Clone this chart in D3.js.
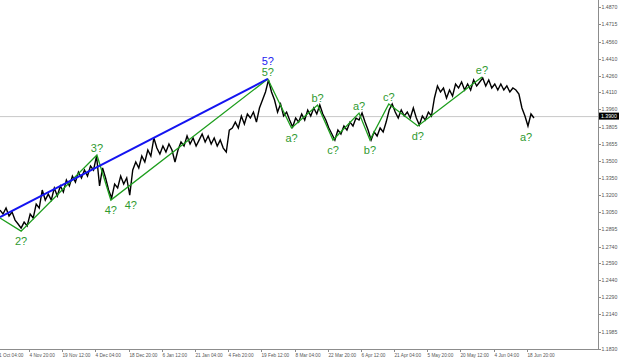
<!DOCTYPE html>
<html><head><meta charset="utf-8">
<script src="https://cdn.jsdelivr.net/npm/d3@7"></script>
<style>html,body{margin:0;padding:0;background:#fff;} svg{display:block;}</style>
</head><body>
<svg id="c" width="620" height="361"></svg>
<script>
// ---- data ----
const closes = [
1.3065,1.3030,1.3083,1.3012,1.3047,1.2976,1.2941,1.2905,1.2958,1.2923,
1.3030,1.2994,1.3118,1.3083,1.3243,1.3154,1.3207,1.3154,1.3261,1.3190,
1.3279,1.3225,1.3332,1.3279,1.3367,1.3314,1.3403,1.3350,1.3421,1.3367,
1.3456,1.3421,1.3545,1.3279,1.3439,1.3350,1.3243,1.3172,1.3296,1.3261,
1.3367,1.3296,1.3350,1.3198,1.3421,1.3492,1.3439,1.3545,1.3492,1.3599,
1.3545,1.3705,1.3616,1.3563,1.3634,1.3581,1.3652,1.3599,1.3492,1.3599,
1.3670,1.3634,1.3723,1.3652,1.3705,1.3634,1.3687,1.3741,1.3670,1.3723,
1.3652,1.3705,1.3634,1.3687,1.3616,1.3581,1.3776,1.3794,1.3847,1.3794,
1.3901,1.3830,1.3919,1.3883,1.3936,1.3847,1.3972,1.4043,1.4114,1.4221,
1.4114,1.4043,1.3936,1.4007,1.3901,1.3936,1.3865,1.3803,1.3883,1.3847,
1.3919,1.3865,1.3954,1.3901,1.3972,1.3919,1.3999,1.3919,1.3865,1.3794,
1.3741,1.3687,1.3776,1.3741,1.3812,1.3776,1.3847,1.3812,1.3883,1.3865,
1.3927,1.3847,1.3776,1.3687,1.3759,1.3723,1.3794,1.3759,1.3847,1.3954,
1.4007,1.3936,1.3883,1.3954,1.3901,1.3936,1.3883,1.3972,1.3883,1.3821,
1.3901,1.3865,1.3936,1.3901,1.4061,1.4168,1.4114,1.4150,1.4061,1.4132,
1.4079,1.4185,1.4150,1.4203,1.4132,1.4185,1.4132,1.4221,1.4168,1.4203,
1.4239,1.4168,1.4221,1.4150,1.4185,1.4132,1.4185,1.4132,1.4168,1.4114,
1.4150,1.4132,1.4096,1.3972,1.3901,1.3812,1.3919,1.3883
];
const BAR_STEP = 8;            // H4 bars between samples
const yTicks = [1.4870,1.4715,1.4560,1.4410,1.4260,1.4110,1.3960,1.3805,1.3655,1.3500,
                1.3350,1.3200,1.3050,1.2895,1.2740,1.2590,1.2440,1.2290,1.2140,1.1985,1.1830];
const currentPrice = 1.3900;
const xTickLabels = ["21 Oct 04:00","4 Nov 20:00","19 Nov 12:00","4 Dec 04:00","18 Dec 20:00",
  "6 Jan 12:00","21 Jan 04:00","4 Feb 20:00","19 Feb 12:00","8 Mar 04:00","22 Mar 20:00",
  "6 Apr 12:00","21 Apr 04:00","5 May 20:00","20 May 12:00","4 Jun 04:00","18 Jun 20:00"];
const xTickFirstBar = -11, xTickEvery = 88;
const blueWave = [[0,1.3003],[710,1.4230]];
const greenWave = [[0,1.2994],[56,1.2878],[257,1.3554],[294,1.3154],[710,1.4230],[773,1.3794],
  [842,1.3999],[883,1.3687],[952,1.3927],[981,1.3687],[1031,1.4007],[1108,1.3812],[1278,1.4247]];
const waveLabels = [
  {t:"2?",bar:56,p:1.2878,side:"below"},
  {t:"3?",bar:257,p:1.3554,side:"above"},
  {t:"4?",bar:294,p:1.3154,side:"below"},
  {t:"4?",bar:347,p:1.3198,side:"below"},
  {t:"5?",bar:710,p:1.4230,side:"top",blue:true},
  {t:"5?",bar:710,p:1.4230,side:"above"},
  {t:"a?",bar:773,p:1.3794,side:"below"},
  {t:"b?",bar:842,p:1.3999,side:"above"},
  {t:"c?",bar:883,p:1.3687,side:"below"},
  {t:"a?",bar:952,p:1.3927,side:"above"},
  {t:"b?",bar:981,p:1.3687,side:"below"},
  {t:"c?",bar:1031,p:1.4007,side:"above"},
  {t:"d?",bar:1108,p:1.3812,side:"below"},
  {t:"e?",bar:1278,p:1.4247,side:"above"},
  {t:"a?",bar:1395,p:1.3803,side:"below"}
];

// ---- layout ----
const plotRight = 598, plotBottom = 349;
const svg = d3.select("#c");
const x = d3.scaleLinear().domain([0,1416]).range([0,534]);
const y = d3.scaleLinear().domain([1.1830,1.4932]).range([plotBottom,0]);

svg.append("defs").append("clipPath").attr("id","clip")
  .append("rect").attr("x",0).attr("y",0).attr("width",plotRight).attr("height",plotBottom);

const plot = svg.append("g").attr("clip-path","url(#clip)");

// current price line
plot.append("line").attr("x1",0).attr("x2",plotRight)
  .attr("y1",y(currentPrice)+0.5).attr("y2",y(currentPrice)+0.5)
  .attr("stroke","#c8c8c8").attr("stroke-width",1);

// price series
plot.append("path").datum(closes)
  .attr("d", d3.line().x((d,i)=>x(i*BAR_STEP)).y(d=>y(d)))
  .attr("fill","none").attr("stroke","#000").attr("stroke-width",1.4).attr("stroke-linejoin","miter");

// wave lines
const wl = d3.line().x(d=>x(d[0])).y(d=>y(d[1]));
plot.append("path").datum(greenWave).attr("d",wl).attr("fill","none")
  .attr("stroke","#1e9e1e").attr("stroke-width",1.3);
plot.append("path").datum(blueWave).attr("d",wl).attr("fill","none")
  .attr("stroke","#1414f0").attr("stroke-width",2);

// wave labels
const off = {below:14, above:-3, top:-14};
svg.append("g").selectAll("text").data(waveLabels).join("text")
  .attr("x",d=>x(d.bar)).attr("y",d=>y(d.p)+off[d.side])
  .attr("text-anchor","middle")
  .attr("font-family","Liberation Sans, Arial, sans-serif").attr("font-size",11)
  .attr("fill",d=>d.blue?"#2424f0":"#2f9a2f").text(d=>d.t);

// axes lines
svg.append("line").attr("x1",plotRight+0.5).attr("x2",plotRight+0.5).attr("y1",0).attr("y2",plotBottom+0.5)
  .attr("stroke","#8c8c8c").attr("stroke-width",1);
svg.append("line").attr("x1",0).attr("x2",plotRight+0.5).attr("y1",plotBottom+0.5).attr("y2",plotBottom+0.5)
  .attr("stroke","#8c8c8c").attr("stroke-width",1);

// y ticks
const yg = svg.append("g");
yTicks.forEach(v=>{
  const yy = Math.round(y(v))+0.5;
  yg.append("line").attr("x1",plotRight).attr("x2",plotRight+3).attr("y1",yy).attr("y2",yy)
    .attr("stroke","#8c8c8c");
  yg.append("text").attr("x",plotRight+3.5).attr("y",yy+1.8)
    .attr("font-family","Liberation Sans, Arial, sans-serif").attr("font-size",5.2)
    .attr("fill","#555").text(v.toFixed(4));
});
// current price box
const cy = y(currentPrice);
svg.append("rect").attr("x",plotRight+1).attr("y",cy-3.5).attr("width",20).attr("height",7).attr("fill","#000");
svg.append("text").attr("x",plotRight+3).attr("y",cy+1.9)
  .attr("font-family","Liberation Sans, Arial, sans-serif").attr("font-size",5.2)
  .attr("fill","#fff").text(currentPrice.toFixed(4));

// x ticks
const xg = svg.append("g");
xTickLabels.forEach((lab,k)=>{
  const xx = Math.round(x(xTickFirstBar + k*xTickEvery))+0.5;
  xg.append("line").attr("x1",xx).attr("x2",xx).attr("y1",plotBottom).attr("y2",plotBottom+3)
    .attr("stroke","#8c8c8c");
  xg.append("text").attr("x",xx).attr("y",plotBottom+7.5)
    .attr("font-family","Liberation Sans, Arial, sans-serif").attr("font-size",4.7)
    .attr("fill","#555").text(lab);
});
</script>
</body></html>
